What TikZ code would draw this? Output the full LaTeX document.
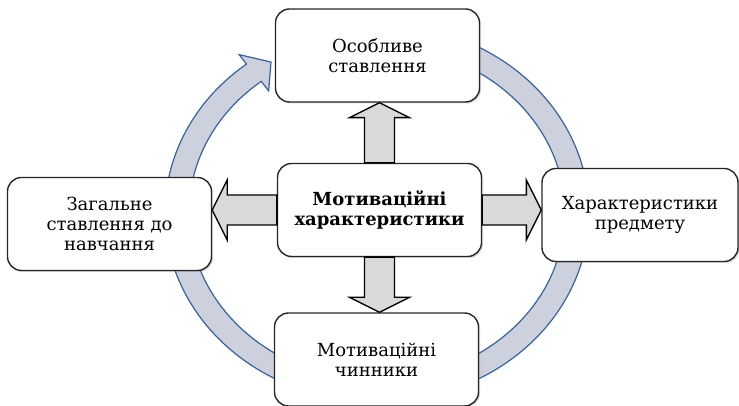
\documentclass[tikz,border=0pt]{standalone}
\usepackage{fontspec}
\setmainfont{DejaVu Serif}
\usepackage{tikz}
\usetikzlibrary{calc}
\usetikzlibrary{shadows}

\definecolor{ringfill}{RGB}{204,209,221}
\definecolor{ringline}{RGB}{58,98,152}
\definecolor{arrowfill}{RGB}{217,217,217}

\begin{document}
\begin{tikzpicture}[x=1pt, y=1pt,
    box/.style={rectangle, rounded corners=14pt, draw=black!85, line width=1.4pt, fill=white,
      minimum width=204pt, minimum height=93pt, align=center, inner sep=2pt,
      font=\fontsize{18}{20}\selectfont,
      drop shadow={opacity=0.3, shadow xshift=1.5pt, shadow yshift=-1.5pt}},
    blockarrow/.style={draw=black, line width=1.4pt, fill=arrowfill, line join=miter},
    ring/.style={draw=ringline, line width=1.2pt, fill=ringfill}]

        \useasboundingbox (0,0) rectangle (739,406);

        % Centre of the cycle
        \coordinate (c) at (377,193);

        % Radii of the cycle, outer and inner edge
        \def\rxo{212} \def\ryo{189}
        \def\rxi{188} \def\ryi{167}

        % How far the head sticks out of the band
        \def\head{12}

        % Cycle arrow behind the boxes
        \draw[ring] ([shift={(70:{\rxo} and {\ryo})}]c)
          arc[start angle=70, end angle=-232, x radius=\rxo, y radius=\ryo]
          -- ([shift={(-232:{\rxo+\head} and {\ryo+\head})}]c)
          -- ([shift={(-238:200 and 178)}]c)
          -- ([shift={(-232:{\rxi-\head} and {\ryi-\head})}]c)
          -- ([shift={(-232:{\rxi} and {\ryi})}]c)
          arc[start angle=-232, end angle=70, x radius=\rxi, y radius=\ryi] -- cycle;

        % Boxes
        \node[box] (top) at (377.5,350.5) {Особливе\\ставлення};
        \node[box] (lft) at (109.5,182) {Загальне\\ставлення до\\навчання};
        \node[box, font=\fontsize{18}{20}\selectfont\bfseries] (mid) at (379.5,196) {Мотиваційні\\характеристики};
        \node[box, minimum width=196pt] (rgt) at (640,191) {Характеристики\\предмету};
        \node[box] (bot) at (376.5,46.5) {Мотиваційні\\чинники};

        % Tips of the block arrows
        \coordinate (tup) at (mid.north |- top.south);
        \coordinate (tdown) at (mid.south |- bot.north);
        \coordinate (tleft) at (lft.east |- mid.west);
        \coordinate (tright) at (rgt.west |- mid.east);

        % Block arrows from the middle box to the others
        \foreach \s/\e in {mid.north/tup, mid.south/tdown, mid.west/tleft, mid.east/tright} {
          \coordinate (h) at ($(\e)!15pt!(\s)$);
          \draw[blockarrow] ($(\s)!15pt!90:(\e)$) -- ($(h)!15pt!90:(\e)$) -- ($(h)!30pt!90:(\e)$) -- (\e)
            -- ($(h)!30pt!-90:(\e)$) -- ($(h)!15pt!-90:(\e)$) -- ($(\s)!15pt!-90:(\e)$) -- cycle;
        }

      \end{tikzpicture}
\end{document}
